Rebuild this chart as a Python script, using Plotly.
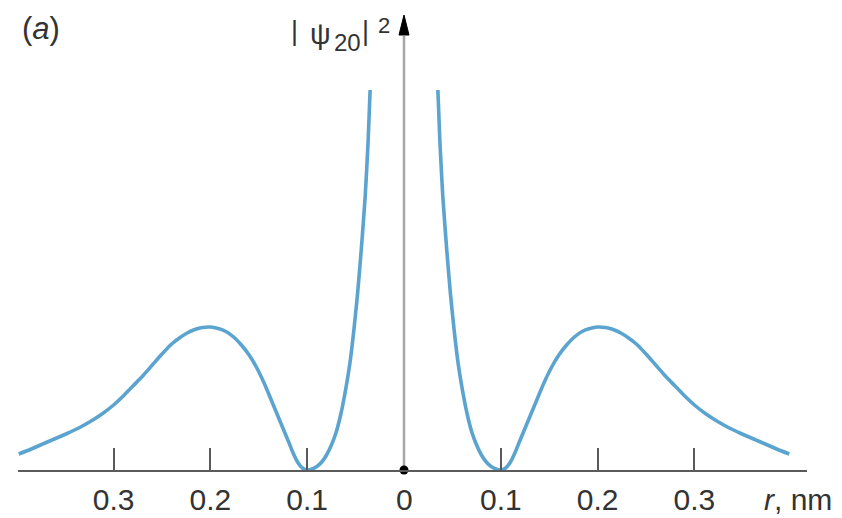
import plotly.graph_objects as go

# ---- data (half-curve, mirrored about r = 0) ----
r_nm = [0.035, 0.037, 0.040, 0.044, 0.048, 0.052, 0.056, 0.060, 0.065, 0.070,
        0.075, 0.080, 0.085, 0.090, 0.095, 0.100, 0.105, 0.110, 0.115, 0.120,
        0.126, 0.132, 0.138, 0.145, 0.152, 0.160, 0.168, 0.176, 0.184, 0.192,
        0.200, 0.208, 0.216, 0.224, 0.232, 0.240, 0.250, 0.260, 0.270, 0.280,
        0.290, 0.300, 0.312, 0.324, 0.336, 0.348, 0.360, 0.372, 0.385, 0.398]
psi2 = [3.80, 3.30, 2.75, 2.22, 1.76, 1.38, 1.06, 0.82, 0.57, 0.38,
        0.25, 0.15, 0.08, 0.035, 0.01, 0.0, 0.02, 0.08, 0.18, 0.30,
        0.44, 0.58, 0.72, 0.88, 1.02, 1.15, 1.25, 1.33, 1.385, 1.415,
        1.43, 1.425, 1.405, 1.37, 1.32, 1.26, 1.16, 1.05, 0.94, 0.84,
        0.74, 0.65, 0.56, 0.485, 0.42, 0.365, 0.315, 0.265, 0.21, 0.16]

tick_vals = [-0.3, -0.2, -0.1, 0.1, 0.2, 0.3]
tick_text = ["0.3", "0.2", "0.1", "0.1", "0.2", "0.3"]
origin_r = [0.0]
origin_psi = [0.0]

CURVE = "#5ba4cf"
AX = "#5a5a5a"
TXT = "#333333"
FONT = "Liberation Sans, Arial, sans-serif"

# pixel geometry of the plot area (for decorations / text placement only)
L_PX, R_PX, T_PX, B_PX = 18.0, 807.0, 15.0, 470.0
X0_PX, PX_PER_NM = 404.0, 968.0
PX_PER_UNIT = 100.0
def dx(px):
    return (px - X0_PX) / PX_PER_NM
def dy(py):
    return (B_PX - py) / PX_PER_UNIT
def px_(px):
    return (px - L_PX) / (R_PX - L_PX)
def py_(py):
    return (B_PX - py) / (B_PX - T_PX)

fig = go.Figure()
left_r = [-v for v in r_nm]
for xs in (left_r, r_nm):
    fig.add_trace(go.Scatter(x=xs, y=psi2, mode="lines",
                             line=dict(color=CURVE, width=3.6, shape="spline", smoothing=0.5),
                             hoverinfo="skip", showlegend=False))
fig.add_trace(go.Scatter(x=origin_r, y=origin_psi, mode="markers",
                         marker=dict(color="black", size=9), cliponaxis=False,
                         hoverinfo="skip", showlegend=False))

shapes = [
    dict(type="line", xref="x", yref="y", x0=0, x1=0, y0=0, y1=dy(36),
         line=dict(color="#a6a6a6", width=2.5), layer="below"),
    dict(type="path", xref="x", yref="y",
         path=f"M {dx(399)} {dy(35)} L 0 {dy(15)} L {dx(409)} {dy(35)} Z",
         fillcolor="black", line=dict(color="black", width=1)),
]

def ann(text, xpx, ypx, size, xanchor="center"):
    return dict(text=text, x=px_(xpx), y=py_(ypx), xref="paper", yref="paper",
                showarrow=False, xanchor=xanchor, yanchor="middle",
                font=dict(family=FONT, size=size, color=TXT))

annotations = [
    ann("(<i>a</i>)", 41, 28, 31),
    ann("|", 294.5, 31, 27),
    ann("ψ", 320, 34, 29),
    ann("20", 347, 42, 24),
    ann("|", 365, 31, 27),
    ann("2", 383.5, 25, 22),
    ann("0", 404, 499, 30),
    ann("<i>r</i>, nm", 834, 499, 30, xanchor="right"),
]

fig.update_layout(
    width=842, height=518,
    margin=dict(l=18, r=35, t=15, b=48, autoexpand=False),
    paper_bgcolor="white", plot_bgcolor="white",
    shapes=shapes, annotations=annotations,
    xaxis=dict(range=[dx(L_PX), dx(R_PX)], showgrid=False, zeroline=False,
               showline=True, linecolor=AX, linewidth=2, automargin=False,
               ticks="inside", ticklen=22, tickwidth=2, tickcolor=AX,
               tickvals=tick_vals, ticktext=tick_text,
               tickfont=dict(family=FONT, size=30, color=TXT),
               ticklabelstandoff=2, fixedrange=True),
    yaxis=dict(range=[0, 4.55], visible=False, showgrid=False, zeroline=False,
               automargin=False, fixedrange=True),
)

fig.write_html("out.html")
